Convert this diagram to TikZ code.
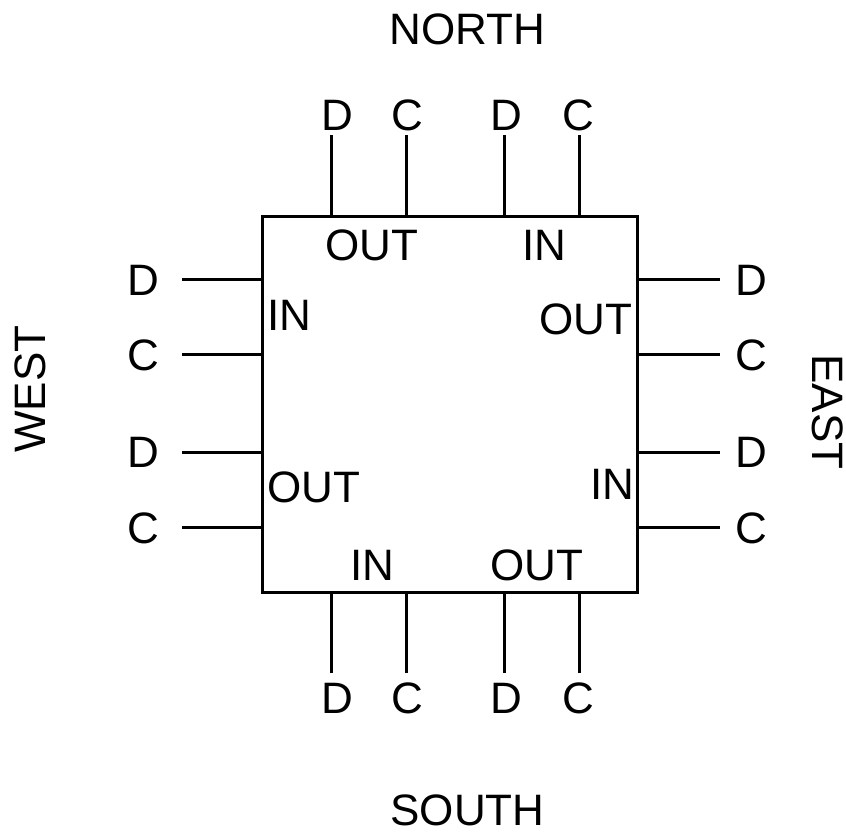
\documentclass[tikz,border=0pt]{standalone}
\usepackage{fontspec}
\setmainfont{Liberation Sans}
\begin{document}
\begin{tikzpicture}[x=1pt,y=-1pt,
  lbl/.style={inner sep=0pt, font=\fontsize{44}{50}\selectfont},
  pinline/.style={line width=3pt},
]
\useasboundingbox (0,0) rectangle (846,833);

% the router block
\node[draw, line width=3pt, minimum width=375pt, minimum height=376pt, inner sep=0pt] (chip) at (449.5,404) {};

% pin ends
\coordinate (n1) at (331,135); \coordinate (n2) at (406,135);
\coordinate (n3) at (504,135); \coordinate (n4) at (579,135);
\coordinate (s1) at (331,673); \coordinate (s2) at (406,673);
\coordinate (s3) at (504,673); \coordinate (s4) at (579,673);
\coordinate (w1) at (182,279); \coordinate (w2) at (182,354);
\coordinate (w3) at (182,452); \coordinate (w4) at (182,527);
\coordinate (e1) at (720,279); \coordinate (e2) at (720,354);
\coordinate (e3) at (720,452); \coordinate (e4) at (720,527);

% pins
\foreach \p in {n1,n2,n3,n4} \draw[pinline] (\p) -- (\p |- chip.north);
\foreach \p in {s1,s2,s3,s4} \draw[pinline] (\p) -- (\p |- chip.south);
\foreach \p in {w1,w2,w3,w4} \draw[pinline] (\p) -- (\p -| chip.west);
\foreach \p in {e1,e2,e3,e4} \draw[pinline] (\p) -- (\p -| chip.east);

% pin names
\node[lbl] (ln1) at (337,115) {D};
\node[lbl] (ln2) at (407,115) {C};
\node[lbl] (ln3) at (506,115) {D};
\node[lbl] (ln4) at (578,115) {C};
\node[lbl] (ls1) at (337,698) {D};
\node[lbl] (ls2) at (407,698) {C};
\node[lbl] (ls3) at (506,698) {D};
\node[lbl] (ls4) at (578,698) {C};
\node[lbl] (lw1) at (143,280) {D};
\node[lbl] (lw2) at (143,355) {C};
\node[lbl] (lw3) at (143,452) {D};
\node[lbl] (lw4) at (143,528) {C};
\node[lbl] (le1) at (751,280) {D};
\node[lbl] (le2) at (751,355) {C};
\node[lbl] (le3) at (751,452) {D};
\node[lbl] (le4) at (751,528) {C};

% port directions inside the block
\node[lbl] (pn1) at (372,245) {OUT};
\node[lbl] (pn2) at (544.5,245) {IN};
\node[lbl] (ps1) at (372,565) {IN};
\node[lbl] (ps2) at (537,565) {OUT};
\node[lbl] (pw1) at (289,315) {IN};
\node[lbl] (pw2) at (314,487) {OUT};
\node[lbl] (pe1) at (586,319) {OUT};
\node[lbl] (pe2) at (612,484) {IN};

% side names
\node[lbl] (north) at (467.5,29) {NORTH};
\node[lbl] (south) at (467.5,810) {SOUTH};
\node[lbl, rotate=90] (west) at (30,389) {WEST};
\node[lbl, rotate=-90] (east) at (828,412) {EAST};
\end{tikzpicture}
\end{document}
